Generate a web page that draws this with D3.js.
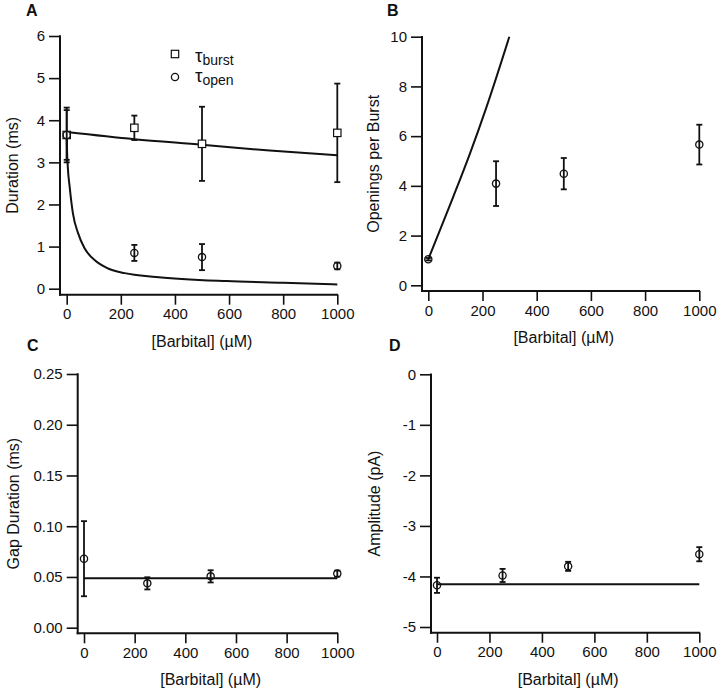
<!DOCTYPE html>
<html><head><meta charset="utf-8">
<script src="https://cdn.jsdelivr.net/npm/d3@7"></script>
<style>
body{margin:0;background:#fff;}
text{font-family:"Liberation Sans",Arial,Helvetica,sans-serif;fill:#111;}
</style></head>
<body><svg id="c" width="720" height="692"></svg>
<script>
// ---- data ----
const conc = [0, 250, 500, 1000];
const xTicks = [0, 200, 400, 600, 800, 1000];

const burstMean = [3.65, 3.82, 3.44, 3.70];
const burstErr  = [0.65, 0.29, 0.88, 1.17];
const openMean  = [3.65, 0.85, 0.75, 0.54];
const openErr   = [0.59, 0.19, 0.31, 0.08];
const burstFitX = [0, 250, 500, 750, 1000];
const burstFitY = [3.72, 3.55, 3.42, 3.28, 3.17];
const openFitX  = [0, 1, 4, 11, 23, 42, 66, 103, 153, 214, 330, 591, 800, 1000];
const openFitY  = [3.72, 3.35, 2.9, 2.42, 1.79, 1.32, 0.96, 0.68, 0.48, 0.37, 0.28, 0.18, 0.14, 0.10];
const durTicks  = [0, 1, 2, 3, 4, 5, 6];

const openingsMean = [1.05, 4.09, 4.49, 5.66];
const openingsErr  = [0.05, 0.90, 0.63, 0.80];
const openingsFitX = [0, 43, 92, 154, 215, 299];
const openingsFitY = [1.05, 2.22, 3.56, 5.31, 7.18, 10.0];
const openingsTicks = [0, 2, 4, 6, 8, 10];

const gapMean = [0.068, 0.0437, 0.0506, 0.0533];
const gapErr  = [0.037, 0.006, 0.006, 0.003];
const gapFitX = [0, 1000];
const gapFitY = [0.0487, 0.0487];
const gapTicks = [0, 0.05, 0.10, 0.15, 0.20, 0.25];

const ampMean = [-4.175, -3.98, -3.80, -3.56];
const ampErr  = [0.15, 0.13, 0.09, 0.14];
const ampFitX = [0, 1000];
const ampFitY = [-4.155, -4.155];
const ampTicks = [-5, -4, -3, -2, -1, 0];

// ---- drawing ----
const svg = d3.select("#c");
const fmtInt = d => String(d);

function panel(cfg) {
  const g = svg.append("g");
  const x = d3.scaleLinear().domain([0, 1000]).range([cfg.x0, cfg.x1]);
  const y = d3.scaleLinear().domain(cfg.ydom).range(cfg.yr);
  const yTop = y(cfg.ydom[1]);

  // y axis
  const ya = g.append("g").attr("transform", `translate(${cfg.ax},0)`)
    .call(d3.axisLeft(y).tickValues(cfg.yticks).tickSize(11).tickPadding(4)
      .tickFormat(cfg.fmt));
  ya.select(".domain").remove();
  ya.selectAll(".tick line").attr("stroke", "#111").attr("stroke-width", 1.6);
  ya.selectAll(".tick text").style("font-size", "15px").attr("fill", "#111");
  g.append("line").attr("x1", cfg.ax).attr("x2", cfg.ax)
    .attr("y1", yTop - 0.8).attr("y2", cfg.by + 1)
    .attr("stroke", "#111").attr("stroke-width", 2);

  // x axis
  const xa = g.append("g").attr("transform", `translate(0,${cfg.by})`)
    .call(d3.axisBottom(x).tickValues(xTicks).tickSize(10).tickPadding(4).tickFormat(fmtInt));
  xa.select(".domain").remove();
  xa.selectAll(".tick line").attr("stroke", "#111").attr("stroke-width", 1.6);
  xa.selectAll(".tick text").style("font-size", "15px").attr("fill", "#111");
  g.append("line").attr("x1", cfg.ax - 1).attr("x2", x(1000) + 0.8)
    .attr("y1", cfg.by).attr("y2", cfg.by)
    .attr("stroke", "#111").attr("stroke-width", 2);

  // titles
  g.append("text").attr("x", (x(0) + x(1000)) / 2).attr("y", cfg.by + 52)
    .attr("text-anchor", "middle").style("font-size", "16px")
    .text("[Barbital] (\u00B5M)");
  g.append("text").attr("transform", `translate(${cfg.tx},${(yTop + cfg.by) / 2}) rotate(-90)`)
    .attr("text-anchor", "middle").attr("dy", "0.35em").style("font-size", "16px")
    .text(cfg.title);
  g.append("text").attr("x", cfg.lx).attr("y", cfg.ly)
    .style("font-size", "16px").style("font-weight", "bold").text(cfg.letter);

  const line = d3.line().x(d => x(d[0])).y(d => y(d[1])).curve(d3.curveMonotoneX);
  cfg.fits.forEach(f => {
    g.append("path").datum(d3.zip(f[0], f[1])).attr("d", line)
      .attr("fill", "none").attr("stroke", "#111").attr("stroke-width", 2);
  });

  cfg.series.forEach(s => {
    const pts = conc.map((c, i) => ({c, m: s.mean[i], e: s.err[i]}));
    const eg = g.append("g");
    pts.forEach(p => {
      const xx = x(p.c), y1 = y(p.m + p.e), y2 = y(p.m - p.e);
      eg.append("line").attr("x1", xx).attr("x2", xx).attr("y1", y1).attr("y2", y2)
        .attr("stroke", "#111").attr("stroke-width", 1.8);
      [y1, y2].forEach(yy => eg.append("line").attr("x1", xx - 3).attr("x2", xx + 3)
        .attr("y1", yy).attr("y2", yy).attr("stroke", "#111").attr("stroke-width", 1.8));
    });
    pts.forEach(p => {
      if (s.shape === "square") {
        g.append("rect").attr("x", x(p.c) - 3.7).attr("y", y(p.m) - 3.7)
          .attr("width", 7.4).attr("height", 7.4)
          .attr("fill", "#fff").attr("stroke", "#111").attr("stroke-width", 1.2);
      } else {
        g.append("circle").attr("cx", x(p.c)).attr("cy", y(p.m)).attr("r", 3.6)
          .attr("fill", "none").attr("stroke", "#111").attr("stroke-width", 1.3);
      }
    });
  });
  return {g, x, y};
}

panel({x0: 66.7, x1: 337.3, ax: 60, by: 294.7, ydom: [0, 6], yr: [288.7, 36],
  yticks: durTicks, fmt: fmtInt, title: "Duration (ms)", tx: 12, letter: "A", lx: 26, ly: 16,
  fits: [[burstFitX, burstFitY], [openFitX, openFitY]],
  series: [{mean: burstMean, err: burstErr, shape: "square"},
           {mean: openMean, err: openErr, shape: "circle"}]});

panel({x0: 428.3, x1: 699.3, ax: 422, by: 291, ydom: [0, 10], yr: [285.3, 36.7],
  yticks: openingsTicks, fmt: fmtInt, title: "Openings per Burst", tx: 373, letter: "B", lx: 387, ly: 16,
  fits: [[openingsFitX, openingsFitY]],
  series: [{mean: openingsMean, err: openingsErr, shape: "circle"}]});

panel({x0: 84, x1: 337.3, ax: 77.7, by: 633.3, ydom: [0, 0.25], yr: [627.7, 374],
  yticks: gapTicks, fmt: d3.format(".2f"), title: "Gap Duration (ms)", tx: 13, letter: "C", lx: 27, ly: 351,
  fits: [[gapFitX, gapFitY]],
  series: [{mean: gapMean, err: gapErr, shape: "circle"}]});

panel({x0: 437, x1: 699.3, ax: 431, by: 632.7, ydom: [-5, 0], yr: [627, 374.3],
  yticks: ampTicks, fmt: fmtInt, title: "Amplitude (pA)", tx: 374, letter: "D", lx: 389, ly: 351,
  fits: [[ampFitX, ampFitY]],
  series: [{mean: ampMean, err: ampErr, shape: "circle"}]});

// legend in panel A
const leg = svg.append("g");
leg.append("rect").attr("x", 171.3).attr("y", 50.3).attr("width", 7.4).attr("height", 7.4)
  .attr("fill", "#fff").attr("stroke", "#111").attr("stroke-width", 1.2);
leg.append("circle").attr("cx", 175).attr("cy", 77).attr("r", 3.6)
  .attr("fill", "none").attr("stroke", "#111").attr("stroke-width", 1.3);
const t1 = leg.append("text").attr("x", 195).attr("y", 62);
t1.append("tspan").style("font-size", "19px").text("\u03C4");
t1.append("tspan").attr("dy", 3).style("font-size", "14px").text("burst");
const t2 = leg.append("text").attr("x", 195).attr("y", 82);
t2.append("tspan").style("font-size", "19px").text("\u03C4");
t2.append("tspan").attr("dy", 3).style("font-size", "14px").text("open");
</script></body></html>
